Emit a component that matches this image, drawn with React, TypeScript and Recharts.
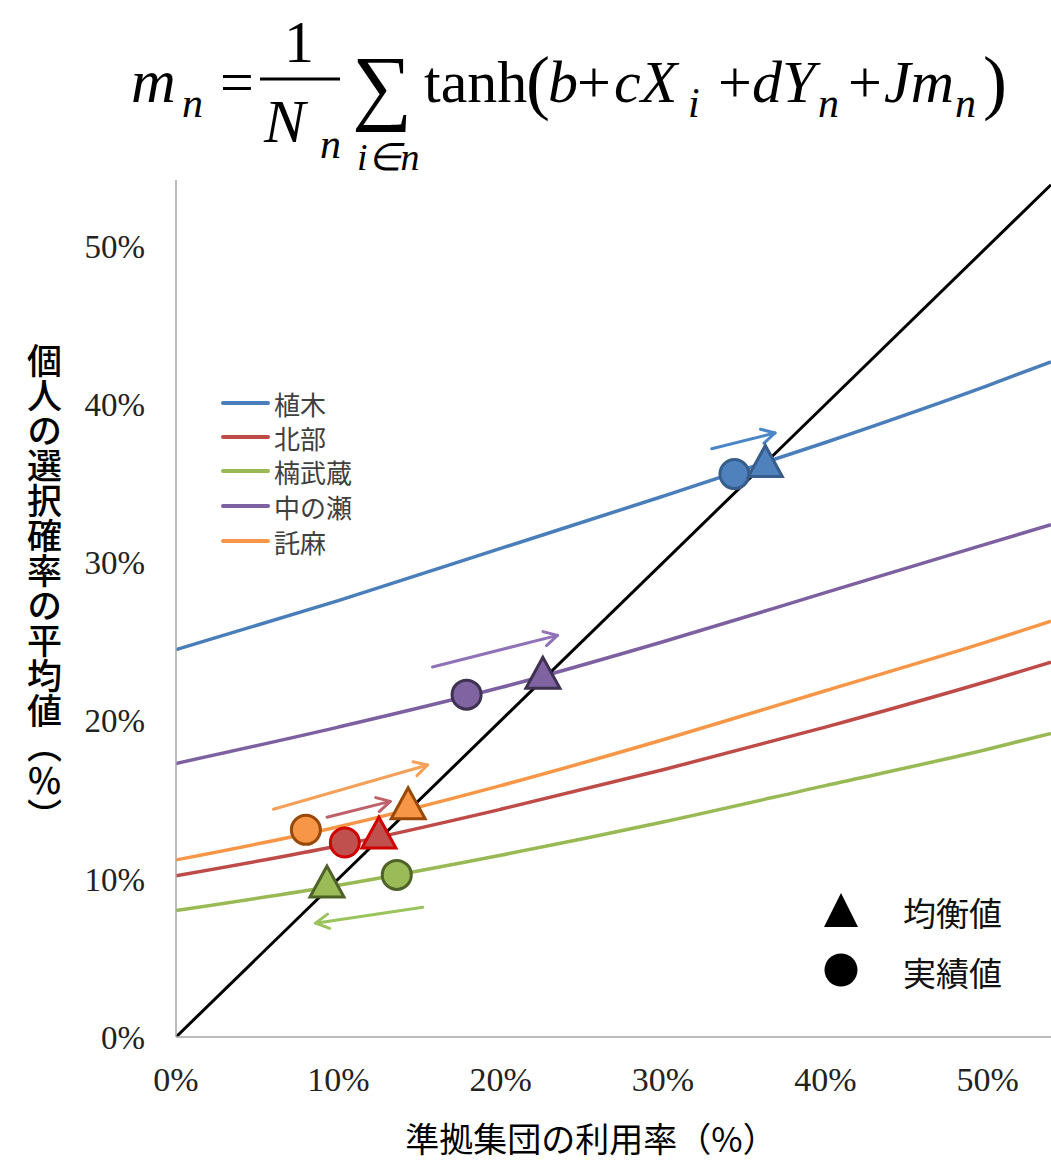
import React from 'react';
import { ComposedChart, Line, Scatter, XAxis, YAxis, ReferenceLine } from 'recharts';

// ---- data ----
const xTicks = [0, 10, 20, 30, 40, 50];
const yTicks = [0, 10, 20, 30, 40, 50];
const curveX = [0, 10, 20, 30, 40, 50, 53.9];
const seriesNames = ['植木', '北部', '楠武蔵', '中の瀬', '託麻'];
const seriesColors = ['#4a7ebb', '#be4b48', '#98b954', '#7d60a0', '#f79646'];
const uekiY = [24.5, 27.6, 30.9, 34.2, 37.6, 41.2, 42.7];
const hokubuY = [10.2, 12.1, 14.4, 16.9, 19.6, 22.5, 23.7];
const kusunokiY = [8.0, 9.6, 11.5, 13.6, 15.9, 18.2, 19.2];
const nakanoseY = [17.3, 19.6, 22.1, 25.0, 28.1, 31.2, 32.4];
const takumaY = [11.2, 13.3, 15.9, 18.8, 21.9, 25.0, 26.3];
const curvesY = [uekiY, hokubuY, kusunokiY, nakanoseY, takumaY];
const diagX = [0, 53.9];
const diagY = [0, 53.9];
// equilibrium (triangle) and actual (circle)
const eqX = [36.3, 12.5, 9.3, 22.6, 14.3];
const eqY = [36.4, 12.9, 9.8, 23.0, 14.75];
const actX = [34.4, 10.4, 13.6, 17.9, 8.0];
const actY = [35.6, 12.3, 10.25, 21.65, 13.1];
const markerFill = ['#4f81bd', '#c0504d', '#9bbb59', '#8064a2', '#f79646'];
const markerStroke = ['#385d8a', '#d00000', '#4f6228', '#3f3151', '#984807'];
// arrows
const arrowX1 = [33.0, 9.3, 15.2, 15.8, 6.0];
const arrowY1 = [37.2, 13.9, 8.2, 23.4, 14.4];
const arrowX2 = [36.9, 13.2, 8.6, 23.5, 15.5];
const arrowY2 = [38.2, 14.9, 7.2, 25.4, 17.2];
const arrowColors = ['#4a86c8', '#c0606a', '#9bc35e', '#8f72b8', '#f5a15a'];

const W = 1051;
const H = 1164;
const serif = '"Liberation Serif", "Times New Roman", serif';
const cjk = '"Noto Sans CJK JP", "Noto Sans", sans-serif';

const makeArrow = (color: string) => (p: any) => {
  const { x1, y1, x2, y2 } = p;
  const ang = Math.atan2(y2 - y1, x2 - x1);
  const len = 15;
  const a1 = ang + Math.PI - 0.5;
  const a2 = ang + Math.PI + 0.5;
  return (
    <g>
      <line x1={x1} y1={y1} x2={x2} y2={y2} stroke={color} strokeWidth={3} strokeLinecap="round" />
      <polyline
        points={`${x2 + len * Math.cos(a1)},${y2 + len * Math.sin(a1)} ${x2},${y2} ${x2 + len * Math.cos(a2)},${y2 + len * Math.sin(a2)}`}
        fill="none"
        stroke={color}
        strokeWidth={3}
        strokeLinecap="round"
        strokeLinejoin="round"
      />
    </g>
  );
};

const circleShape = (i: number) => (p: any) => (
  <circle cx={p.cx} cy={p.cy} r={14.5} fill={markerFill[i]} stroke={markerStroke[i]} strokeWidth={3} />
);
const triShape = (i: number) => (p: any) => (
  <polygon
    points={`${p.cx},${p.cy - 16} ${p.cx - 17},${p.cy + 15} ${p.cx + 17},${p.cy + 15}`}
    fill={markerFill[i]}
    stroke={markerStroke[i]}
    strokeWidth={3}
    strokeLinejoin="miter"
  />
);

export default function App() {
  const curves = curvesY.map((ys) => curveX.map((x, j) => ({ x, y: ys[j] })));
  const diag = diagX.map((x, j) => ({ x, y: diagY[j] }));
  const legendY = [403, 437, 471, 506, 541];
  return (
    <div style={{ position: 'absolute', left: 0, top: 0, width: W, height: H, background: '#fff' }}>
      <ComposedChart width={W} height={H} margin={{ top: 180, right: 0, bottom: 77, left: 0 }}>
        <XAxis
          type="number"
          dataKey="x"
          domain={[0, 53.9]}
          ticks={xTicks}
          allowDataOverflow
          tickFormatter={(v) => `${v}%`}
          tick={{ fontFamily: serif, fontSize: 34, fill: '#222' }}
          tickSize={0}
          tickMargin={30}
          height={50}
          axisLine={{ stroke: '#a6a6a6', strokeWidth: 1.5 }}
        />
        <YAxis
          type="number"
          dataKey="y"
          domain={[0, 54.2]}
          ticks={yTicks}
          allowDataOverflow
          tickFormatter={(v) => `${v}%`}
          tick={{ fontFamily: serif, fontSize: 33, fill: '#222' }}
          tickSize={0}
          tickMargin={31}
          width={176}
          axisLine={{ stroke: '#a6a6a6', strokeWidth: 1.5 }}
        />
        {curves.map((d, i) => (
          <Line
            key={seriesNames[i]}
            data={d}
            dataKey="y"
            type="monotone"
            stroke={seriesColors[i]}
            strokeWidth={3.5}
            dot={false}
            isAnimationActive={false}
          />
        ))}
        <Line data={diag} dataKey="y" type="linear" stroke="#000" strokeWidth={3} dot={false} isAnimationActive={false} />
        {seriesNames.map((n, i) => (
          <ReferenceLine
            key={'a' + n}
            segment={[
              { x: arrowX1[i], y: arrowY1[i] },
              { x: arrowX2[i], y: arrowY2[i] },
            ]}
            ifOverflow="visible"
            shape={makeArrow(arrowColors[i])}
          />
        ))}
        {seriesNames.map((n, i) => (
          <Scatter
            key={'c' + n}
            data={[{ x: actX[i], y: actY[i] }]}
            dataKey="y"
            shape={circleShape(i)}
            isAnimationActive={false}
          />
        ))}
        {seriesNames.map((n, i) => (
          <Scatter
            key={'t' + n}
            data={[{ x: eqX[i], y: eqY[i] }]}
            dataKey="y"
            shape={triShape(i)}
            isAnimationActive={false}
          />
        ))}
      </ComposedChart>

      <svg width={W} height={H} style={{ position: 'absolute', left: 0, top: 0, pointerEvents: 'none' }}>
        {/* formula */}
        <g fontFamily={serif} fill="#000">
          <text x={131} y={102} fontSize={62} fontStyle="italic">m</text>
          <text x={182} y={117} fontSize={42} fontStyle="italic">n</text>
          <text x={220} y={102} fontSize={60}>=</text>
          <text x={284} y={62} fontSize={60}>1</text>
          <line x1={260} y1={79} x2={340} y2={79} stroke="#000" strokeWidth={3} />
          <text x={264} y={142} fontSize={62} fontStyle="italic">N</text>
          <text x={320} y={158} fontSize={42} fontStyle="italic">n</text>
          <text x={352} y={114} fontSize={84}>∑</text>
          <text x={357} y={170} fontSize={38} fontStyle="italic">i∈n</text>
          <text x={424} y={102} fontSize={60}>tanh</text>
          <text x={526} y={106} fontSize={72}>(</text>
          <text x={548} y={102} fontSize={60} fontStyle="italic">b</text>
          <text x={577} y={102} fontSize={60}>+</text>
          <text x={614} y={102} fontSize={60} fontStyle="italic">cX</text>
          <text x={688} y={117} fontSize={42} fontStyle="italic">i</text>
          <text x={718} y={102} fontSize={60}>+</text>
          <text x={752} y={102} fontSize={60} fontStyle="italic">dY</text>
          <text x={818} y={117} fontSize={42} fontStyle="italic">n</text>
          <text x={848} y={102} fontSize={60}>+</text>
          <text x={884} y={102} fontSize={60} fontStyle="italic">Jm</text>
          <text x={955} y={117} fontSize={42} fontStyle="italic">n</text>
          <text x={983} y={106} fontSize={72}>)</text>
        </g>
        {/* series legend */}
        {seriesNames.map((n, i) => (
          <g key={'lg' + n}>
            <line x1={223} y1={legendY[i]} x2={268} y2={legendY[i]} stroke={seriesColors[i]} strokeWidth={4} strokeLinecap="round" />
            <text x={274} y={legendY[i]} dominantBaseline="central" fontFamily={cjk} fontSize={26} fill="#404040">
              {n}
            </text>
          </g>
        ))}
        {/* marker legend */}
        <polygon points="841,893 824,927 858,927" fill="#000" />
        <text x={903} y={912} dominantBaseline="central" fontFamily={cjk} fontSize={33} fill="#111">均衡値</text>
        <circle cx={841} cy={970} r={16.5} fill="#000" />
        <text x={903} y={972} dominantBaseline="central" fontFamily={cjk} fontSize={33} fill="#111">実績値</text>
        {/* x title */}
        <text x={591} y={1137} textAnchor="middle" dominantBaseline="central" fontFamily={cjk} fontSize={34} fill="#000">
          準拠集団の利用率（%）
        </text>
      </svg>
      <div
        style={{
          position: 'absolute',
          left: 27,
          top: 343,
          writingMode: 'vertical-rl',
          fontFamily: cjk,
          fontSize: 35,
          letterSpacing: 0,
          lineHeight: 1,
          color: '#000',
          fontWeight: 500,
        }}
      >
        個人の選択確率の平均値（％）
      </div>
    </div>
  );
}
